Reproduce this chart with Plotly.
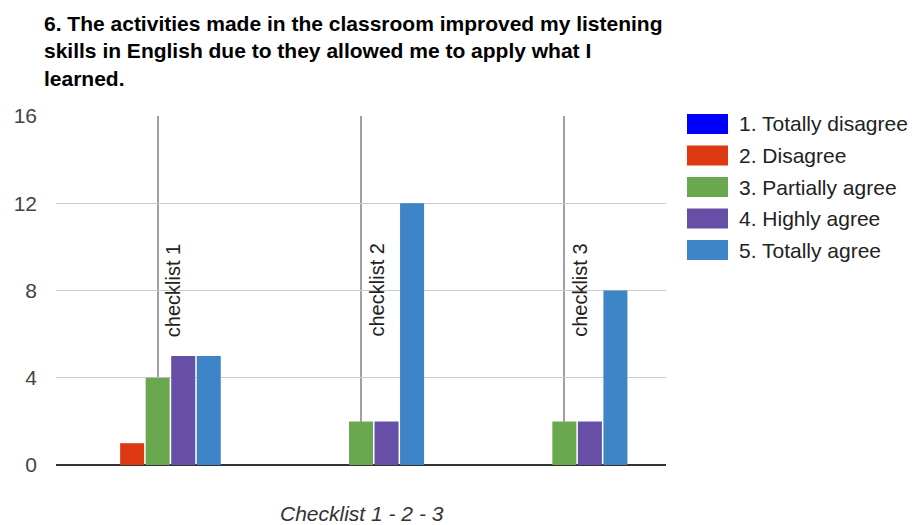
import plotly.graph_objects as go

categories = ["checklist 1", "checklist 2", "checklist 3"]
series_names = ["1. Totally disagree", "2. Disagree", "3. Partially agree", "4. Highly agree", "5. Totally agree"]
totally_disagree = [0, 0, 0]
disagree = [1, 0, 0]
partially_agree = [4, 2, 2]
highly_agree = [5, 2, 2]
totally_agree = [5, 12, 8]
y_ticks = [0, 4, 8, 12, 16]
title_lines = [
    "6. The activities made in the classroom improved my listening",
    "skills in English due to they allowed me to apply what I",
    "learned.",
]
x_title = "Checklist 1 - 2 - 3"

colors = ["#0000ff", "#dc3912", "#6aa84f", "#674ea7", "#3d85c6"]
values = [totally_disagree, disagree, partially_agree, highly_agree, totally_agree]

W, H = 914, 525
L, R, T, B = 56, 248, 116, 60
pw, ph = W - L - R, H - T - B

def px_x(p):
    return (p - L) / pw

def px_y(p):
    return (H - B - p) / ph

fig = go.Figure()
for name, vals, col in zip(series_names, values, colors):
    fig.add_trace(go.Bar(x=categories, y=vals, name=name, marker_color=col,
                         marker_line_width=0, showlegend=False))

annotations = []
# title lines
for i, line in enumerate(title_lines):
    annotations.append(dict(text="<b>" + line + "</b>", xref="paper", yref="paper",
                            x=px_x(42), y=px_y(23 + i * 27.5), xanchor="left", yanchor="middle",
                            showarrow=False,
                            font=dict(family="Liberation Sans, Arial", size=21, color="#000")))
# x axis title
annotations.append(dict(text="<i>" + x_title + "</i>", xref="paper", yref="paper",
                        x=px_x(362), y=px_y(513), xanchor="center", yanchor="middle",
                        showarrow=False, font=dict(family="Liberation Sans, Arial", size=21, color="#333")))
# rotated category labels
for c in categories:
    annotations.append(dict(text=c, x=c, xref="x", yref="paper", y=px_y(339),
                            xanchor="center", yanchor="bottom", textangle=-90, xshift=15,
                            showarrow=False, font=dict(family="Liberation Sans, Arial", size=20, color="#222")))
# legend
shapes = []
for i, (name, col) in enumerate(zip(series_names, colors)):
    cy = 124 + i * 31.5
    shapes.append(dict(type="rect", xref="paper", yref="paper",
                       x0=px_x(687), x1=px_x(728), y0=px_y(cy - 10), y1=px_y(cy + 10),
                       fillcolor=col, line=dict(width=0)))
    annotations.append(dict(text=name, xref="paper", yref="paper", x=px_x(737), y=px_y(cy),
                            xanchor="left", yanchor="middle", showarrow=False,
                            font=dict(family="Liberation Sans, Arial", size=21, color="#222")))

fig.update_layout(
    width=W, height=H,
    margin=dict(l=L, r=R, t=T, b=B),
    paper_bgcolor="white", plot_bgcolor="white",
    barmode="group", bargap=0.372, bargroupgap=0.06,
    font=dict(family="Liberation Sans, Arial", size=20, color="#444"),
    annotations=annotations, shapes=shapes,
    xaxis=dict(showticklabels=False, showgrid=True, gridcolor="#a0a0a0", gridwidth=1.5,
               showline=False, zeroline=False, automargin=False),
    yaxis=dict(range=[0, 16], tickvals=y_ticks, ticktext=[str(v) for v in y_ticks],
               showgrid=True, gridcolor="#cccccc", gridwidth=1, zeroline=True,
               zerolinecolor="#333333", zerolinewidth=1.5, ticklabelstandoff=18,
               automargin=False, tickfont=dict(size=21, color="#444")),
)

fig.write_html("out.html")
